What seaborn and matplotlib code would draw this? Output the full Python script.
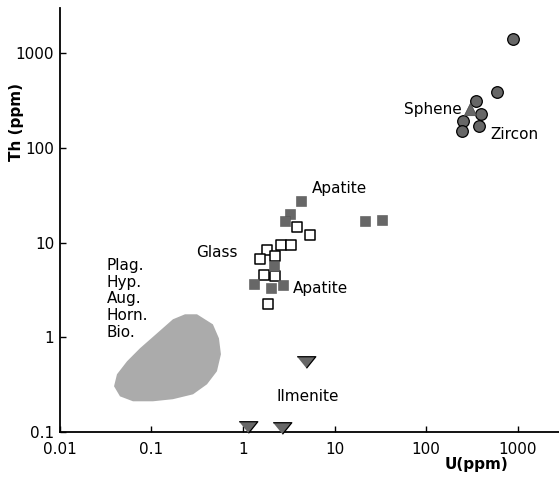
import pandas as pd
import seaborn as sns
import matplotlib.pyplot as plt

# U / Th contents (ppm)
zircon_u = [890, 600, 350, 400, 255, 245, 380]
zircon_th = [1400, 385, 310, 230, 190, 150, 170]

sphene_u = [300]
sphene_th = [260]

apatite_u = [4.3, 3.26, 2.88, 21.5, 33.0, 2.18, 1.32, 2.02, 2.74]
apatite_th = [27.2, 19.9, 16.8, 16.8, 17.2, 5.6, 3.63, 3.29, 3.54]

glass_u = [3.9, 5.4, 2.6, 3.35, 1.83, 1.53, 2.24, 1.70, 2.24, 1.88]
glass_th = [14.5, 11.9, 9.35, 9.35, 8.3, 6.7, 7.3, 4.6, 4.4, 2.23]

ilmenite_u = [4.9, 1.14, 2.65]
ilmenite_th = [0.55, 0.112, 0.11]

# outline of the Plag./Hyp./Aug./Horn./Bio. field
field_u = [0.315, 0.470, 0.547, 0.575, 0.520, 0.405, 0.285, 0.172, 0.104,
           0.063, 0.0454, 0.0391, 0.0421, 0.0542, 0.0751, 0.115, 0.172, 0.233]
field_th = [1.75, 1.37, 0.975, 0.662, 0.438, 0.319, 0.250, 0.222, 0.211,
            0.211, 0.238, 0.304, 0.407, 0.558, 0.766, 1.10, 1.55, 1.75]

x_ticks = [0.01, 0.1, 1, 10, 100, 1000]
x_ticklabels = ['0.01', '0.1', '1', '10', '100', '1000']
y_ticks = [0.1, 1, 10, 100, 1000]
y_ticklabels = ['0.1', '1', '10', '100', '1000']

sns.set_style('ticks')
plt.rcParams['font.family'] = ['DejaVu Sans']
plt.rcParams['font.size'] = 11
for key in ('text.color', 'axes.labelcolor', 'xtick.color', 'ytick.color',
            'axes.edgecolor'):
    plt.rcParams[key] = 'black'

fig = plt.figure(figsize=(5.59, 4.83), dpi=100)
ax = fig.add_axes([0.107, 51 / 483, 0.893, 424 / 483])
ax.set_xscale('log')
ax.set_yscale('log')

ax.fill(field_u, field_th, color='#ababab', lw=0, zorder=1)

dark = '#676767'
flat_down = [(-1.0, 0.62), (1.0, 0.62), (0.0, -0.62)]
sns.scatterplot(x=zircon_u, y=zircon_th, marker='o', s=70, color=dark,
                edgecolor='black', linewidth=0.9, ax=ax, zorder=3)
sns.scatterplot(x=sphene_u, y=sphene_th, marker='^', s=80, color=dark,
                edgecolor='#444444', linewidth=0.5, ax=ax, zorder=3)
sns.scatterplot(x=glass_u, y=glass_th, marker='s', s=58, color='white',
                edgecolor='black', linewidth=1.1, ax=ax, zorder=2)
sns.scatterplot(x=apatite_u, y=apatite_th, marker='s', s=60, color=dark,
                edgecolor='#555555', linewidth=0.4, ax=ax, zorder=3)
sns.scatterplot(x=ilmenite_u, y=ilmenite_th, marker=flat_down, s=180,
                color=dark, edgecolor='black', linewidth=0.9, ax=ax,
                zorder=3, clip_on=False)

ax.set_xlim(0.01, 2830)
ax.set_ylim(0.1, 3000)
ax.set_xticks(x_ticks, labels=x_ticklabels)
ax.set_yticks(y_ticks, labels=y_ticklabels)
ax.minorticks_off()
ax.tick_params(direction='in', length=4, width=1, labelsize=11)
ax.tick_params(axis='y', pad=4)
ax.tick_params(axis='x', pad=7)
for side in ('top', 'right'):
    ax.spines[side].set_visible(False)
for side in ('left', 'bottom'):
    ax.spines[side].set_linewidth(1.3)

ax.set_ylabel('Th (ppm)', fontsize=11, fontweight='bold')
ax.yaxis.set_label_coords(-0.072, 0.73)
ax.set_xlabel('U(ppm)', fontsize=11, fontweight='bold')
ax.xaxis.set_label_coords(0.834, -0.058)

ax.text(5.68, 37.4, 'Apatite', ha='left', va='center')
ax.text(0.88, 7.9, 'Glass', ha='right', va='center')
ax.text(3.52, 3.29, 'Apatite', ha='left', va='center')
ax.text(247, 255, 'Sphene', ha='right', va='center')
ax.text(500, 139, 'Zircon', ha='left', va='center')
ax.text(2.30, 0.238, 'Ilmenite', ha='left', va='center')
ax.text(0.0326, 6.9, 'Plag.\nHyp.\nAug.\nHorn.\nBio.', ha='left', va='top',
        linespacing=1.15)

plt.savefig('out.png', dpi=100)
